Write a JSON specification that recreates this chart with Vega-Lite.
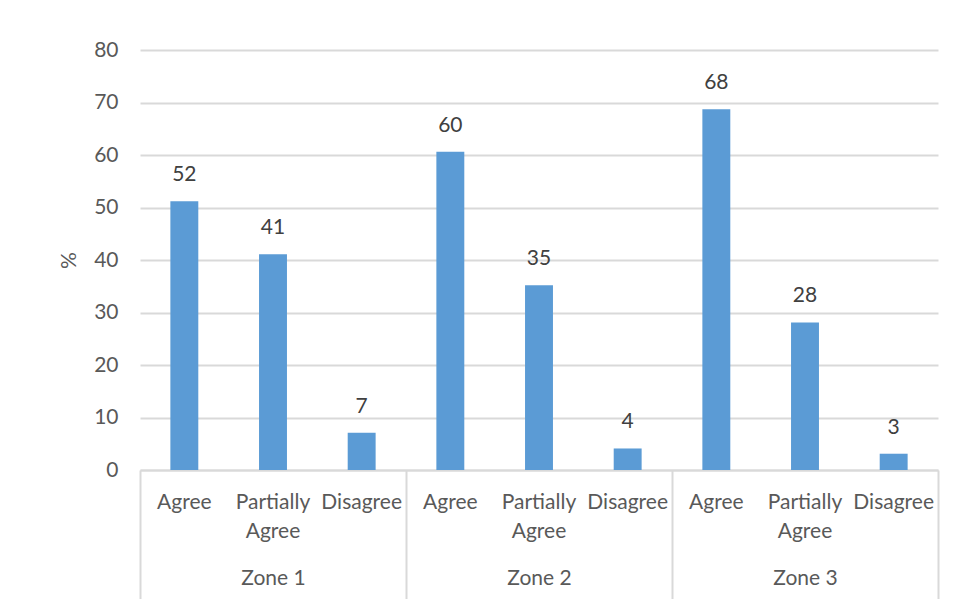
{
  "$schema": "https://vega.github.io/schema/vega-lite/v6.json",
  "width": 798,
  "height": 420,
  "autosize": "none",
  "padding": {"left": 140, "top": 50, "right": 22, "bottom": 129},
  "background": "white",
  "config": {"font": "Lato", "view": {"stroke": null}},
  "data": {
    "values": [
      {"zone": "Zone 1", "answer": "Agree", "value": 51.2, "label": "52"},
      {"zone": "Zone 1", "answer": "Partially Agree", "value": 41.1, "label": "41"},
      {"zone": "Zone 1", "answer": "Disagree", "value": 7.1, "label": "7"},
      {"zone": "Zone 2", "answer": "Agree", "value": 60.6, "label": "60"},
      {"zone": "Zone 2", "answer": "Partially Agree", "value": 35.2, "label": "35"},
      {"zone": "Zone 2", "answer": "Disagree", "value": 4.1, "label": "4"},
      {"zone": "Zone 3", "answer": "Agree", "value": 68.7, "label": "68"},
      {"zone": "Zone 3", "answer": "Partially Agree", "value": 28.1, "label": "28"},
      {"zone": "Zone 3", "answer": "Disagree", "value": 3.1, "label": "3"}
    ]
  },
  "transform": [{"calculate": "datum.zone + '|' + datum.answer", "as": "key"}],
  "layer": [
    {
      "layer": [
        {
          "mark": {"type": "bar", "color": "#5b9bd5"},
          "encoding": {
            "x": {
              "field": "key", "type": "nominal", "sort": null,
              "scale": {"paddingInner": 0.685, "paddingOuter": 0.3425},
              "axis": {
                "orient": "bottom", "title": null, "labelAngle": 0,
                "labelExpr": "split(split(datum.value, '|')[1], ' ')",
                "labelFontSize": 21, "labelColor": "#595959",
                "labelPadding": 21, "labelLineHeight": 29, "labelBaseline": "top",
                "ticks": false, "tickSize": 0, "grid": false,
                "domainColor": "#d9d9d9", "domainWidth": 2
              }
            },
            "y": {
              "field": "value", "type": "quantitative",
              "scale": {"domain": [0, 80], "nice": false},
              "axis": {
                "values": [0, 10, 20, 30, 40, 50, 60, 70, 80],
                "grid": true, "gridColor": "#d9d9d9", "gridWidth": 2,
                "domain": false, "ticks": false,
                "labelPadding": 22, "labelFontSize": 21, "labelColor": "#595959",
                "title": "%", "titleFontSize": 21, "titleFontWeight": "normal",
                "titleColor": "#595959", "titlePadding": 14
              }
            }
          }
        },
        {
          "mark": {"type": "text", "baseline": "bottom", "dy": -16, "fontSize": 21, "color": "#404040"},
          "encoding": {
            "x": {"field": "key", "type": "nominal", "sort": null},
            "y": {"field": "value", "type": "quantitative"},
            "text": {"field": "label", "type": "nominal"}
          }
        }
      ]
    },
    {
      "mark": {"type": "bar", "opacity": 0},
      "encoding": {
        "x": {
          "field": "zone", "type": "nominal", "sort": null,
          "scale": {"paddingInner": 0, "paddingOuter": 0},
          "axis": {
            "orient": "bottom", "title": null, "labelAngle": 0,
            "tickBand": "extent", "ticks": true, "tickSize": 129,
            "tickColor": "#d9d9d9", "tickWidth": 2, "domain": false, "grid": false,
            "labelPadding": -32, "labelBaseline": "top",
            "labelFontSize": 21, "labelColor": "#595959"
          }
        },
        "y": {"field": "value", "type": "quantitative"}
      }
    }
  ],
  "resolve": {"scale": {"x": "independent"}, "axis": {"x": "independent"}}
}
